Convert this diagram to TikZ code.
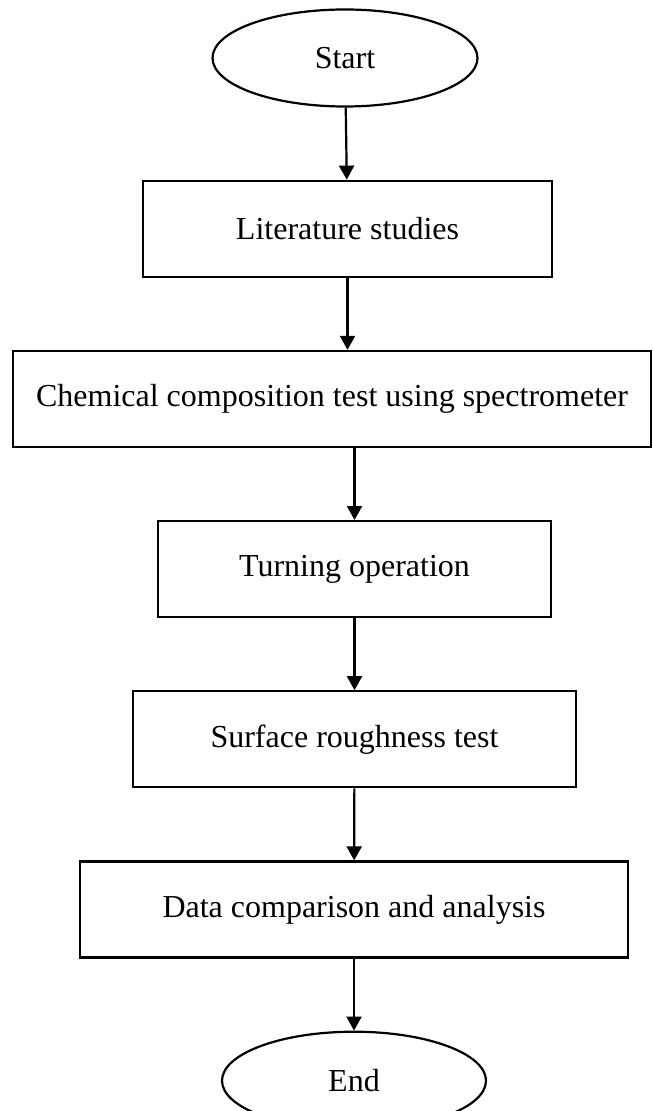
\documentclass[tikz,border=0pt]{standalone}
\usepackage{fontspec}
\setmainfont{Liberation Serif}
\usepackage{tikz}
\usetikzlibrary{arrows.meta,positioning,shapes.geometric}

\begin{document}
\begin{tikzpicture}[x=0.5pt, y=-0.5pt, node distance=36pt, every node/.style={font=\fontsize{16}{19}\selectfont}, box/.style={draw,line width=1.1pt,minimum height=48pt,inner sep=0pt,align=center}, term/.style={draw,ellipse,line width=1.1pt,minimum width=132.5pt,minimum height=48.5pt,inner sep=0pt}, arr/.style={-{Triangle[length=7pt,width=7.5pt]},line width=1.1pt}]
\useasboundingbox (0,0) rectangle (652,1111);
\node[term] (start) at (345,58) {Start};
\node[box,below=of start,xshift=1.25pt,minimum width=204.5pt] (lit) {Literature studies};
\node[box,below=of lit,xshift=-7.75pt,minimum width=319pt] (chem) {Chemical composition test using spectrometer};
\node[box,below=of chem,xshift=11.25pt,minimum width=196.5pt] (turn) {Turning operation};
\node[box,below=of turn,minimum width=221.5pt] (surf) {Surface roughness test};
\node[box,below=of surf,xshift=-0.25pt,minimum width=274pt] (data) {Data comparison and analysis};
\node[term,below=of data,minimum width=132pt,minimum height=49pt] (stop) {End};
\draw[arr] (start)--(lit); \draw[arr] (lit)--(lit |- chem.north); \draw[arr] (turn |- chem.south)--(turn);
\draw[arr] (turn)--(surf); \draw[arr] (surf)--(data); \draw[arr] (data)--(stop);
\end{tikzpicture}
\end{document}
